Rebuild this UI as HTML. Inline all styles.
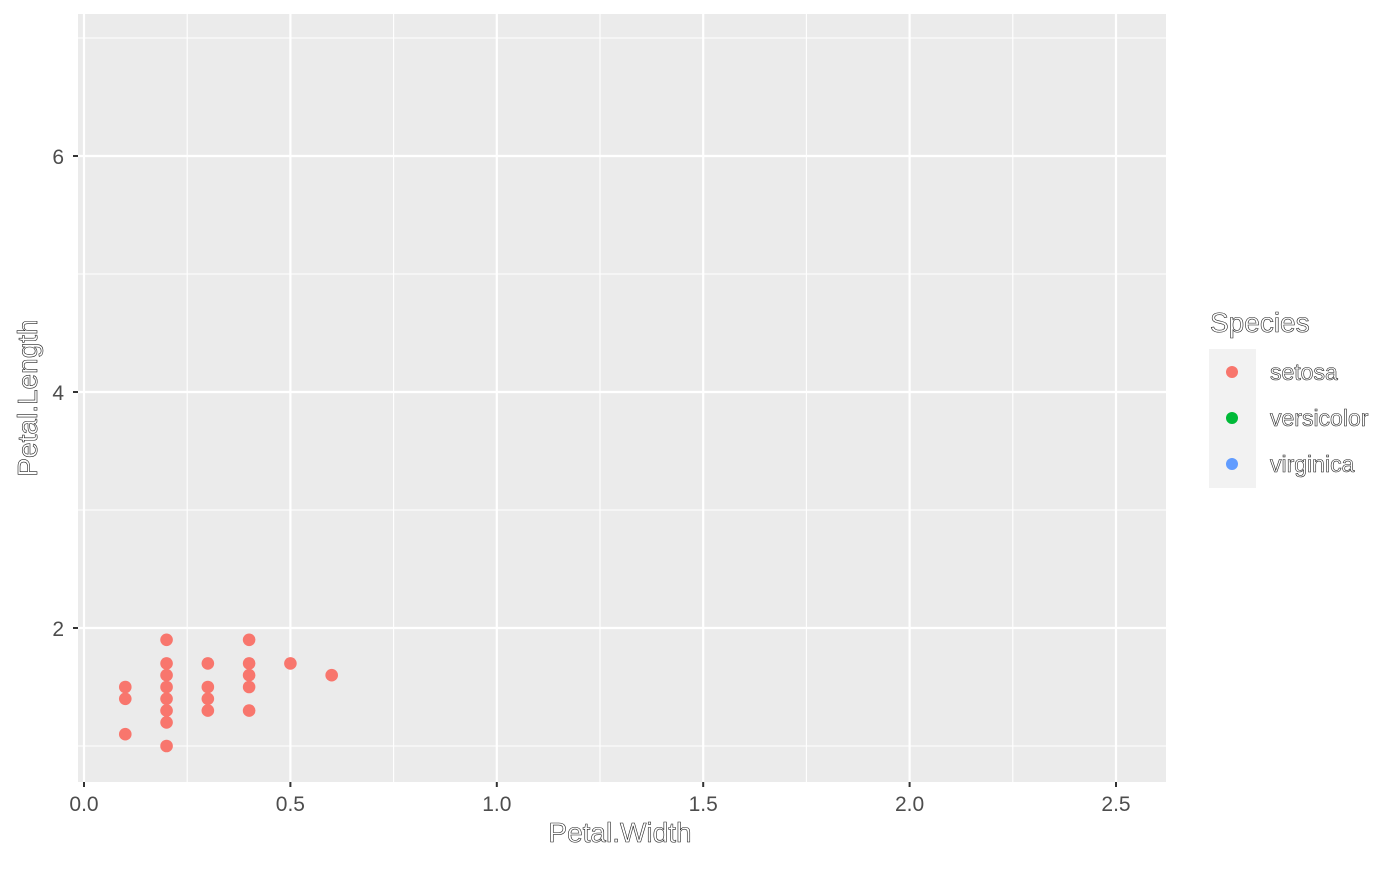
<!DOCTYPE html>
<html><head><meta charset="utf-8"><style>
html,body{margin:0;padding:0;background:#fff;}
svg text{font-family:"Liberation Sans",sans-serif;}
.o{fill:#fff;stroke:#222;stroke-width:0.6;}
</style></head><body>
<svg id="chart" width="1400" height="865" xmlns="http://www.w3.org/2000/svg">
<rect x="78" y="14" width="1088" height="768" fill="#ebebeb"/>
<g id="grid"></g>
<g id="pts"></g>
<g id="axes"></g>
<text x="620" y="842" font-size="28" text-anchor="middle" class="o">Petal.Width</text>
<text x="37" y="398" font-size="28" text-anchor="middle" class="o" transform="rotate(-90 37 398)">Petal.Length</text>
<g>
<text x="1210" y="332" font-size="28" class="o">Species</text>
<rect x="1209" y="349" width="47" height="139" fill="#f2f2f2"/>
<g id="leg"></g>
</g>
</svg>
<script>
const petalWidth=[0.1,0.1,0.1,0.2,0.2,0.2,0.2,0.2,0.2,0.2,0.2,0.3,0.3,0.3,0.3,0.4,0.4,0.4,0.4,0.4,0.5,0.6];
const petalLength=[1.5,1.4,1.1,1.9,1.7,1.6,1.5,1.4,1.3,1.2,1.0,1.7,1.5,1.4,1.3,1.9,1.7,1.6,1.5,1.3,1.7,1.6];
const species=["setosa","versicolor","virginica"];
const speciesColors=["#F8766D","#00BA38","#619CFF"];
const xTicks=[0,0.5,1,1.5,2,2.5];
const xTickLabels=["0.0","0.5","1.0","1.5","2.0","2.5"];
const yTicks=[2,4,6];
const yTickLabels=["2","4","6"];
const xMinor=[0.25,0.75,1.25,1.75,2.25];
const yMinor=[1,3,5,7];
const NS="http://www.w3.org/2000/svg";
const xs=v=>84+v*412.8;
const ys=v=>628-(v-2)*118;
function mk(tag,attrs,parent){const e=document.createElementNS(NS,tag);for(const k in attrs)e.setAttribute(k,attrs[k]);parent.appendChild(e);return e;}
const grid=document.getElementById('grid'),axes=document.getElementById('axes'),pts=document.getElementById('pts'),leg=document.getElementById('leg');
xMinor.forEach(v=>{const l=mk('line',{x1:xs(v),x2:xs(v),y1:14,y2:782,stroke:'#fff','stroke-width':1.1},grid);

});
yMinor.forEach(v=>{const l=mk('line',{x1:78,x2:1166,y1:ys(v),y2:ys(v),stroke:'#fff','stroke-width':1.1},grid);

});
xTicks.forEach((v,i)=>{const l=mk('line',{x1:xs(v),x2:xs(v),y1:14,y2:782,stroke:'#fff','stroke-width':2.2},grid);


const t=mk('line',{x1:xs(v),x2:xs(v),y1:782,y2:787,stroke:'#333','stroke-width':2},axes);


const tx=mk('text',{x:xs(v),y:811,'font-size':21,'text-anchor':'middle',fill:'#4d4d4d'},axes);tx.textContent=xTickLabels[i];

});
yTicks.forEach((v,i)=>{const l=mk('line',{x1:78,x2:1166,y1:ys(v),y2:ys(v),stroke:'#fff','stroke-width':2.2},grid);


const t=mk('line',{x1:73,x2:78,y1:ys(v),y2:ys(v),stroke:'#333','stroke-width':2},axes);


const tx=mk('text',{x:64,y:ys(v)+8,'font-size':21,'text-anchor':'end',fill:'#4d4d4d'},axes);tx.textContent=yTickLabels[i];

});
petalWidth.forEach((w,i)=>{const c=mk('circle',{cx:xs(w),cy:ys(petalLength[i]),r:6.3,fill:speciesColors[0]},pts);

});
species.forEach((s,i)=>{const y=372+i*46;
const c=mk('circle',{cx:1232,cy:y,r:6,fill:speciesColors[i]},leg);


const t=mk('text',{x:1270,y:y+8,'font-size':23,class:'o'},leg);t.textContent=s;

});
</script>
</body></html>
